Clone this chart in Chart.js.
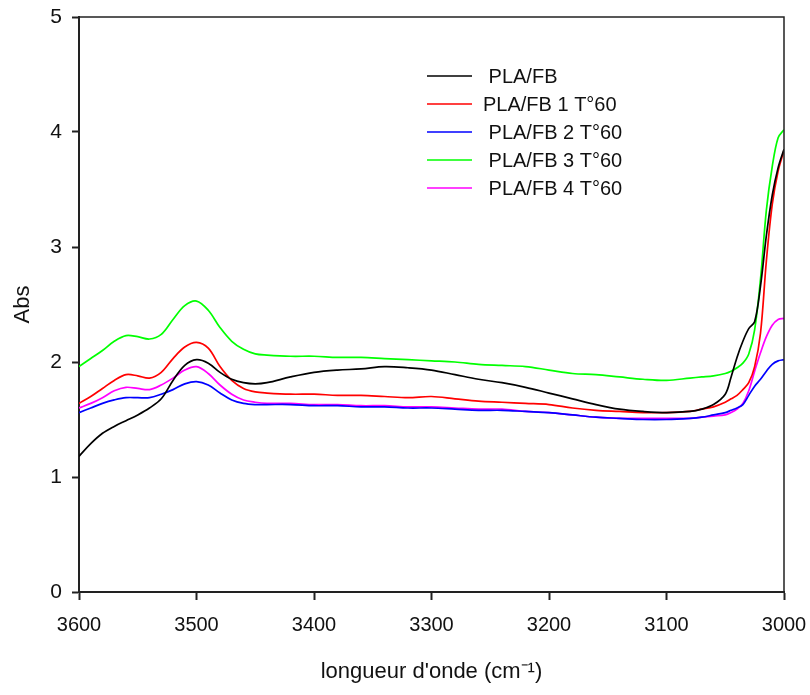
<!DOCTYPE html>
<html lang="fr">
<head>
<meta charset="UTF-8">
<title>Abs vs longueur d'onde</title>
<script src="https://cdn.jsdelivr.net/npm/chart.js"></script>
<style>
  body { margin: 0; background: #fff; }
  #wrap { width: 810px; height: 695px; }
</style>
</head>
<body>
<div id="wrap"><canvas id="absChart" width="810" height="695"></canvas></div>
<script>
// wavenumbers (cm-1) shared by every series
const waveNumbers = [3600, 3590, 3580, 3570, 3560, 3550, 3540, 3530, 3520, 3510, 3500, 3490, 3480, 3470, 3460, 3450, 3440,
  3420, 3400, 3380, 3360, 3340, 3320, 3300, 3280, 3260, 3240, 3220, 3200, 3180, 3160, 3140, 3120, 3100,
  3080, 3070, 3060, 3050, 3045, 3040, 3035, 3030, 3025, 3020, 3015, 3010, 3005, 3000];

const plaFb = [1.18, 1.29, 1.38, 1.44, 1.49, 1.54, 1.60, 1.68, 1.84, 1.97, 2.02, 1.99, 1.91, 1.85, 1.82, 1.81, 1.82,
  1.87, 1.91, 1.93, 1.94, 1.96, 1.95, 1.93, 1.89, 1.85, 1.82, 1.78, 1.73, 1.68, 1.63, 1.59, 1.57, 1.56,
  1.57, 1.59, 1.63, 1.72, 1.87, 2.04, 2.18, 2.29, 2.35, 2.66, 3.10, 3.45, 3.69, 3.85];

const plaFb1 = [1.64, 1.70, 1.77, 1.84, 1.89, 1.88, 1.86, 1.91, 2.03, 2.13, 2.17, 2.12, 1.96, 1.84, 1.77, 1.74, 1.73,
  1.72, 1.72, 1.71, 1.71, 1.70, 1.69, 1.70, 1.68, 1.66, 1.65, 1.64, 1.63, 1.60, 1.58, 1.57, 1.56, 1.56,
  1.57, 1.59, 1.61, 1.65, 1.68, 1.71, 1.76, 1.82, 1.96, 2.25, 2.88, 3.37, 3.66, 3.84];

const plaFb2 = [1.56, 1.60, 1.64, 1.67, 1.69, 1.69, 1.69, 1.72, 1.76, 1.81, 1.83, 1.80, 1.73, 1.67, 1.64, 1.63, 1.63,
  1.63, 1.62, 1.62, 1.61, 1.61, 1.60, 1.60, 1.59, 1.58, 1.58, 1.57, 1.56, 1.54, 1.52, 1.51, 1.50, 1.50,
  1.51, 1.52, 1.54, 1.56, 1.58, 1.60, 1.63, 1.71, 1.79, 1.85, 1.92, 1.98, 2.01, 2.02];

const plaFb3 = [1.96, 2.03, 2.10, 2.18, 2.23, 2.22, 2.20, 2.24, 2.37, 2.49, 2.53, 2.45, 2.30, 2.18, 2.11, 2.07, 2.06,
  2.05, 2.05, 2.04, 2.04, 2.03, 2.02, 2.01, 2.00, 1.98, 1.97, 1.96, 1.93, 1.90, 1.89, 1.87, 1.85, 1.84,
  1.86, 1.87, 1.88, 1.90, 1.92, 1.95, 1.99, 2.07, 2.28, 2.72, 3.32, 3.70, 3.95, 4.02];

const plaFb4 = [1.60, 1.64, 1.69, 1.75, 1.78, 1.77, 1.76, 1.80, 1.86, 1.93, 1.96, 1.90, 1.80, 1.72, 1.67, 1.65, 1.64,
  1.64, 1.63, 1.63, 1.62, 1.62, 1.61, 1.61, 1.60, 1.59, 1.59, 1.57, 1.56, 1.54, 1.52, 1.51, 1.51, 1.51,
  1.51, 1.52, 1.53, 1.54, 1.56, 1.59, 1.64, 1.75, 1.92, 2.08, 2.22, 2.32, 2.37, 2.38];

const seriesLabels = [' PLA/FB', 'PLA/FB 1 T°60', ' PLA/FB 2 T°60', ' PLA/FB 3 T°60', ' PLA/FB 4 T°60'];
const seriesColors = ['#000000', '#ff0000', '#0000ff', '#00ff00', '#ff00ff'];
const seriesValues = [plaFb, plaFb1, plaFb2, plaFb3, plaFb4];

const xTicks = [3600, 3500, 3400, 3300, 3200, 3100, 3000];
const yTicks = [0, 1, 2, 3, 4, 5];

const FONT = "'Liberation Sans', Arial, sans-serif";
const AXIS = '#222222';

// frame on top and right side of the plot
const framePlugin = {
  id: 'frame',
  afterDatasetsDraw(chart) {
    const { ctx, chartArea: a } = chart;
    ctx.save();
    ctx.strokeStyle = AXIS;
    ctx.lineWidth = 1.5;
    ctx.beginPath();
    ctx.moveTo(a.left, a.top);
    ctx.lineTo(a.right, a.top);
    ctx.lineTo(a.right, a.bottom);
    ctx.stroke();
    ctx.restore();
  }
};

// legend inside the plot, lines then text
const legendPlugin = {
  id: 'innerLegend',
  afterDraw(chart) {
    const { ctx, chartArea: a } = chart;
    const x0 = a.left + 348;
    const y0 = a.top + 59;
    ctx.save();
    ctx.font = '20px ' + FONT;
    ctx.textBaseline = 'middle';
    ctx.fillStyle = '#111';
    chart.data.datasets.forEach((ds, i) => {
      const y = y0 + i * 28;
      ctx.strokeStyle = ds.borderColor;
      ctx.lineWidth = 1.6;
      ctx.beginPath();
      ctx.moveTo(x0, y);
      ctx.lineTo(x0 + 45, y);
      ctx.stroke();
      ctx.fillText(ds.label, x0 + 56, y + 1);
    });
    ctx.restore();
  }
};

const ctx = document.getElementById('absChart').getContext('2d');
new Chart(ctx, {
  type: 'line',
  data: {
    datasets: seriesValues.map((vals, i) => ({
      label: seriesLabels[i],
      data: vals.map((v, j) => ({ x: waveNumbers[j], y: v })),
      borderColor: seriesColors[i],
      borderWidth: 1.7,
      pointRadius: 0,
      tension: 0.35,
      fill: false
    }))
  },
  options: {
    responsive: false,
    animation: false,
    layout: { padding: { left: 0, top: 17, right: 26, bottom: 0 } },
    plugins: {
      legend: { display: false },
      tooltip: { enabled: false }
    },
    scales: {
      x: {
        type: 'linear',
        reverse: true,
        min: 3000,
        max: 3600,
        afterBuildTicks: s => { s.ticks = xTicks.map(v => ({ value: v })); },
        afterFit: s => { s.height = 103; s.paddingLeft = 0; s.paddingRight = 0; },
        grid: { drawOnChartArea: false, tickLength: 8, tickWidth: 2, tickColor: AXIS },
        border: { color: AXIS, width: 2 },
        ticks: {
          color: '#111', padding: 13, maxRotation: 0,
          font: { family: FONT, size: 20 },
          callback: v => String(v)
        },
        title: {
          display: true,
          text: "longueur d'onde (cm⁻¹)",
          color: '#111',
          padding: { top: 0, bottom: 10 },
          font: { family: FONT, size: 22 }
        }
      },
      y: {
        min: 0,
        max: 5,
        afterBuildTicks: s => { s.ticks = yTicks.map(v => ({ value: v })); },
        afterFit: s => { s.width = 79; s.paddingTop = 0; s.paddingBottom = 0; },
        grid: { drawOnChartArea: false, tickLength: 7, tickWidth: 2, tickColor: AXIS },
        border: { color: AXIS, width: 2 },
        ticks: {
          color: '#111', padding: 10,
          font: { family: FONT, size: 21 },
          callback: v => String(v)
        },
        title: {
          display: true,
          text: 'Abs',
          color: '#111',
          padding: { top: 10, bottom: 0 },
          font: { family: FONT, size: 22 }
        }
      }
    }
  },
  plugins: [framePlugin, legendPlugin]
});
</script>
</body>
</html>
